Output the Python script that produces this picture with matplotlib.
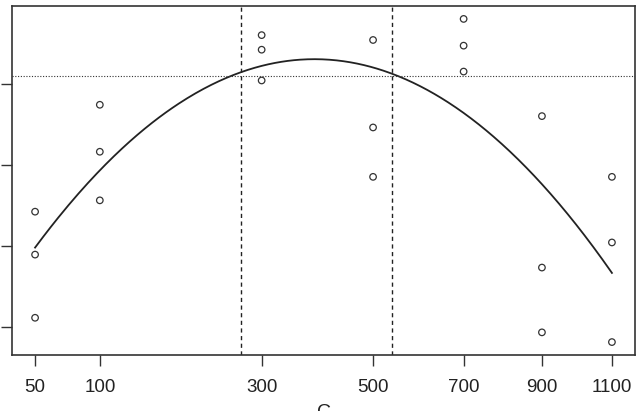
import numpy as np
import matplotlib
matplotlib.use("Agg")
import matplotlib.pyplot as plt
from matplotlib.scale import FuncScale

plt.rcParams['font.family'] = ['Liberation Sans', 'DejaVu Sans']

# data (y in arbitrary units, tick labels not visible in reference)
C_levels = [50, 100, 300, 500, 700, 900, 1100]
x_pts = [50, 50, 50, 100, 100, 100, 300, 300, 300, 500, 500, 500,
         700, 700, 700, 900, 900, 900, 1100, 1100, 1100]
y_pts = [1.42, 0.89, 0.11, 2.74, 2.16, 1.56, 3.60, 3.42, 3.04,
         3.54, 2.46, 1.85, 3.80, 3.47, 3.15, 2.60, 0.73, -0.07,
         1.85, 1.04, -0.19]
y_ticks = [0, 1, 2, 3]
threshold = 3.09
v_lines = [268, 539]

x_arr = np.array(x_pts, float)
y_arr = np.array(y_pts, float)
coef = np.polyfit(np.sqrt(x_arr), y_arr, 2)
print(coef, -coef[1]/(2*coef[0]))
cgrid = np.linspace(min(C_levels), max(C_levels), 400)
yfit = np.polyval(coef, np.sqrt(cgrid))
print(yfit[0], yfit[-1], yfit.max())

fig = plt.figure(figsize=(6.42, 4.11), dpi=100)
ax = fig.add_axes([12/642, 1-355/411, (635-12)/642, (355-6)/411])
ax.set_xscale(FuncScale(ax, (lambda v: np.sqrt(np.clip(v, 0, None)), lambda v: v**2)))

ax.plot(cgrid, yfit, color='#222222', lw=1.3)
ax.scatter(x_arr, y_arr, s=22, facecolors='none', edgecolors='#333333', linewidths=0.9)
ax.axhline(threshold, color='#333333', lw=0.8, ls=(0, (1, 1.5)))
for v in v_lines:
    ax.axvline(v, color='#222222', lw=1.0, ls=(0, (3, 2.5)))

u0, u1 = np.sqrt(50), np.sqrt(1100)
pad = 0.04*(u1-u0)
ax.set_xlim((u0-pad)**2, (u1+pad)**2)
ypad = 0.04*(max(y_pts)-min(y_pts))
ax.set_ylim(min(y_pts)-ypad, max(y_pts)+ypad)

ax.set_xticks(C_levels)
ax.set_xticklabels([str(c) for c in C_levels], fontsize=13.5, color='#222222')
ax.set_yticks(y_ticks)
ax.set_yticklabels([])
ax.tick_params(axis='both', length=8, width=1.0, color='#333333', pad=9)
ax.xaxis.set_minor_locator(matplotlib.ticker.NullLocator())
for s in ax.spines.values():
    s.set_color('#333333')
    s.set_linewidth(1.2)
ax.set_xlabel('C', fontsize=14, labelpad=6, color='#222222')

fig.savefig('out.png', dpi=100)
